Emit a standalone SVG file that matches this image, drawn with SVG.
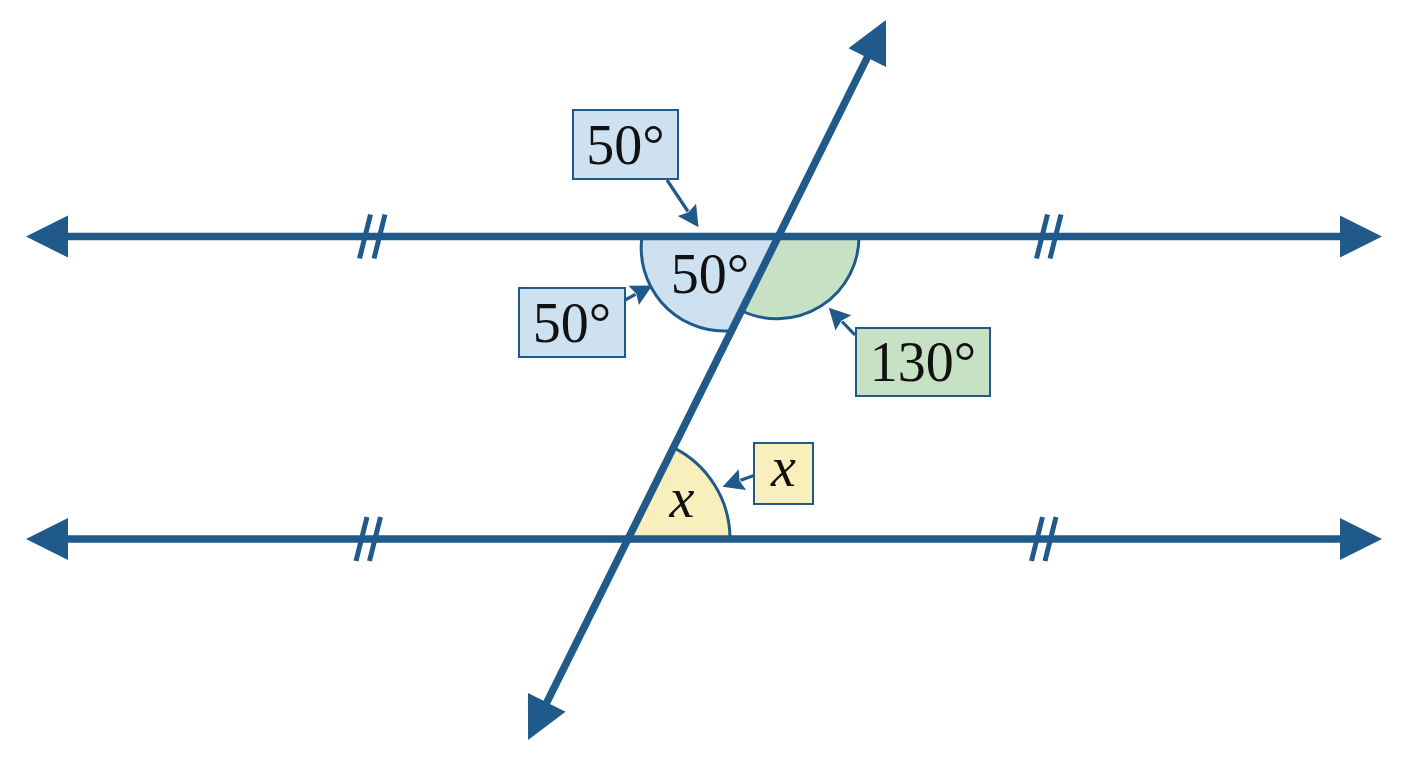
<svg xmlns="http://www.w3.org/2000/svg" width="1408" height="768" viewBox="0 0 1408 768">
<style>
.ln{stroke:#1f5a8b;stroke-width:7.5;fill:none}
.tick{stroke:#1f5a8b;stroke-width:5;fill:none}
.call{stroke:#1f5a8b;stroke-width:3.2;fill:none}
.arc{stroke:#1f5a8b;stroke-width:3;}
.box{stroke:#1f5a8b;stroke-width:2;}
.blue{fill:#cde1f0}
.green{fill:#c7e1c5}
.yellow{fill:#f9efbd}
.t{font-family:"Liberation Serif","DejaVu Serif",serif;font-size:56px;fill:#111;text-anchor:middle}
.it{font-style:italic}
</style>
<defs>
<marker id="big" markerUnits="userSpaceOnUse" viewBox="-1 -22 45 44" refX="1" refY="0" markerWidth="45" markerHeight="44" orient="auto-start-reverse">
<path d="M0,-21 L42,0 L0,21 Z" fill="#1f5a8b"/>
</marker>
<marker id="small" markerUnits="userSpaceOnUse" viewBox="-1 -12 23 24" refX="2" refY="0" markerWidth="23" markerHeight="24" orient="auto">
<path d="M0,-11 L21,0 L0,11 L3,0 Z" fill="#1f5a8b"/>
</marker>
</defs>
<rect width="1408" height="768" fill="#ffffff"/>
<g id="angles">
<path id="angle-blue" class="blue" d="M642,236.5 L777,236.5 L729,331 A83 83 0 0 1 642,236.5 Z"/>
<path class="arc" fill="none" d="M729,331 L724,331 A83 83 0 0 1 642,236.5"/>
<path id="angle-green" class="green arc" d="M777,236.5 L859,236.5 A82 82 0 0 1 741,310.5 Z"/>
<path id="angle-yellow" class="yellow arc" d="M628,539 L730,539 A102 102 0 0 0 673,447.3 Z"/>
</g>
<g id="lines">
<line id="line-top" class="ln" x1="67" y1="236.5" x2="1341" y2="236.5" marker-start="url(#big)" marker-end="url(#big)"/>
<line id="line-bottom" class="ln" x1="67" y1="539" x2="1341" y2="539" marker-start="url(#big)" marker-end="url(#big)"/>
<line id="transversal" class="ln" x1="546.3" y1="703.3" x2="867.7" y2="56.7" marker-start="url(#big)" marker-end="url(#big)"/>
</g>
<g id="ticks">
<line class="tick" x1="370.5" y1="214.5" x2="359.5" y2="258.5"/>
<line class="tick" x1="385" y1="214.5" x2="374" y2="258.5"/>
<line class="tick" x1="1047.5" y1="214.5" x2="1036.5" y2="258.5"/>
<line class="tick" x1="1061" y1="214.5" x2="1050" y2="258.5"/>
<line class="tick" x1="367" y1="517" x2="356" y2="561"/>
<line class="tick" x1="380.5" y1="517" x2="369.5" y2="561"/>
<line class="tick" x1="1042.5" y1="517" x2="1031.5" y2="561"/>
<line class="tick" x1="1056" y1="517" x2="1045" y2="561"/>
</g>
<g id="connectors">
<line class="call" x1="667" y1="180" x2="688" y2="211.5" marker-end="url(#small)"/>
<line class="call" x1="625" y1="300" x2="635.5" y2="294.4" marker-end="url(#small)"/>
<line class="call" x1="855" y1="335" x2="842" y2="321.5" marker-end="url(#small)"/>
<line class="call" x1="754" y1="475.5" x2="740.5" y2="480.3" marker-end="url(#small)"/>
</g>
<g id="label-top-50">
<rect class="box blue" x="573" y="110" width="105" height="69"/>
<text class="t" x="625.5" y="164">50°</text>
</g>
<g id="label-inner-50">
<text class="t" x="710" y="293">50°</text>
</g>
<g id="label-left-50">
<rect class="box blue" x="519" y="288" width="106" height="69"/>
<text class="t" x="572" y="342">50°</text>
</g>
<g id="label-130">
<rect class="box green" x="856" y="328" width="134" height="68"/>
<text class="t" x="923" y="381">130°</text>
</g>
<g id="label-x-box">
<rect class="box yellow" x="754" y="443" width="59" height="61"/>
<text class="t it" x="783.5" y="486">x</text>
</g>
<g id="label-x-inner">
<text class="t it" x="682" y="517">x</text>
</g>
</svg>
